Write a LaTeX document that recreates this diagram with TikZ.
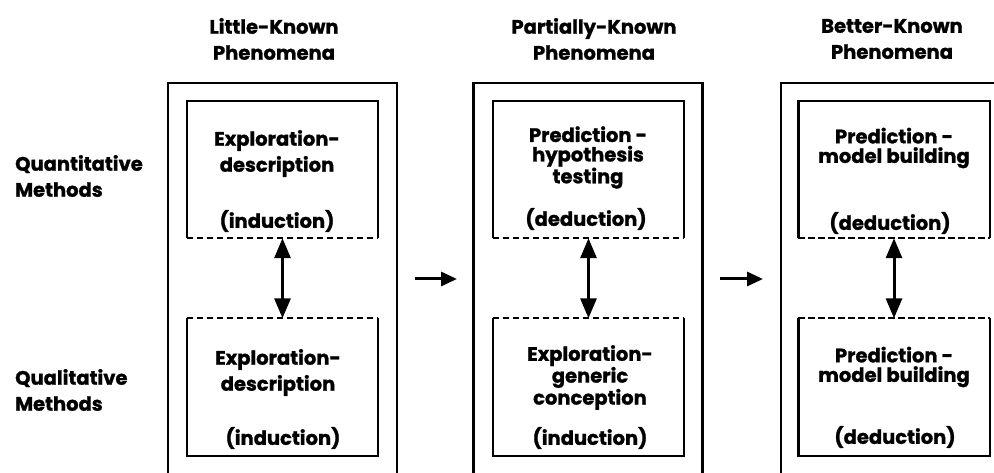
\documentclass[tikz,border=0pt]{standalone}
\usepackage{fontspec}
\setmainfont{Poppins}[BoldFeatures={FakeBold=1.2}]
\usetikzlibrary{arrows.meta}
\begin{document}
\begin{tikzpicture}[x=1pt,y=-1pt,
  txt/.style={font=\fontsize{19.5}{26}\selectfont\bfseries, align=center, inner sep=0pt},
  txttight/.style={font=\fontsize{19.5}{19.5}\selectfont\bfseries, align=center, inner sep=0pt},
  rowlbl/.style={font=\fontsize{19.5}{26}\selectfont\bfseries, align=left, inner sep=0pt, anchor=west},
  frame/.style={draw, line width=2.6pt, minimum width=229pt, minimum height=430pt, inner sep=0pt},
  cell/.style={minimum width=191pt, minimum height=137pt, inner sep=0pt},
  rim/.style={line width=2.4pt},
  sep/.style={line width=2.2pt, dash pattern=on 6.5pt off 3.5pt},
  link/.style={line width=3pt, {Triangle[length=20pt,width=16pt]}-{Triangle[length=20pt,width=16pt]}},
  advance/.style={line width=3pt, -{Triangle[length=16pt,width=14pt]}}]
\useasboundingbox (0,0) rectangle (994,473);
\clip (0,0) rectangle (994,473);

% column headings
\node[txt] (h1) at (274,39) {Little-Known\\Phenomena};
\node[txt] (h2) at (594,39) {Partially-Known\\Phenomena};
\node[txt] (h3) at (892,39) {Better-Known\\Phenomena};

% row labels
\node[rowlbl] (r1) at (15,176) {Quantitative\\Methods};
\node[rowlbl] (r2) at (15,390) {Qualitative\\Methods};

% outer frames (run off the lower edge)
\node[frame] (o1) at (282.5,298) {};
\node[frame] (o2) at (588,298) {};
\node[frame] (o3) at (895.5,298) {};

% inner cells
\node[cell] (c1t) at (282.5,169.5) {};
\node[cell] (c1b) at (282.5,387) {};
\node[cell] (c2t) at (588.5,169.5) {};
\node[cell] (c2b) at (588.5,387) {};
\node[cell] (c3t) at (894,169.5) {};
\node[cell] (c3b) at (894,387) {};

\foreach \c in {c1t,c2t,c3t}{
  \draw[rim] (\c.south west) |- (\c.north east) -- (\c.south east);
  \draw[sep] (\c.south west) -- (\c.south east);
}
\foreach \c in {c1b,c2b,c3b}{
  \draw[rim] (\c.north west) |- (\c.south east) -- (\c.north east);
  \draw[sep] (\c.north west) -- (\c.north east);
}

% cell texts
\node[txt] (t1t) at (277,153.5) {Exploration-\\description};
\node[txt] (m1t) at (277,221) {(induction)};
\node[txt] (t1b) at (278,372.5) {Exploration-\\description};
\node[txt] (m1b) at (283,438) {(induction)};

\node[txttight] (t2t) at (588,157.5) {Prediction -\\hypothesis\\testing};
\node[txt] (m2t) at (586,219) {(deduction)};
\node[txttight] (t2b) at (590,377.5) {Exploration-\\generic\\conception};
\node[txt] (m2b) at (590,438) {(induction)};

\node[txttight] (t3t) at (894,148) {Prediction -\\model building};
\node[txt] (m3t) at (890,223) {(deduction)};
\node[txttight] (t3b) at (894,367) {Prediction -\\model building};
\node[txt] (m3b) at (895,437) {(deduction)};

% links between the two methods
\draw[link] (c1t.south) -- (c1b.north);
\draw[link] (c2t.south) -- (c2b.north);
\draw[link] (c3t.south) -- (c3b.north);

% progression between stages
\coordinate (p1a) at (415,279);
\coordinate (p1b) at (457,279);
\coordinate (p2a) at (720,279);
\coordinate (p2b) at (763,279);
\draw[advance] (p1a) -- (p1b);
\draw[advance] (p2a) -- (p2b);
\end{tikzpicture}
\end{document}
